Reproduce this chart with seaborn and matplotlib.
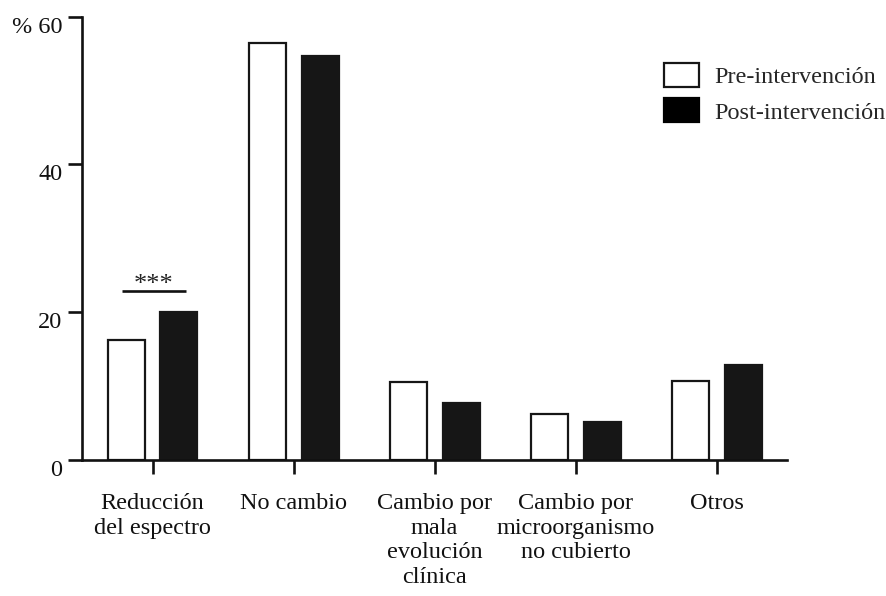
import matplotlib
matplotlib.use("Agg")
import matplotlib.pyplot as plt
import matplotlib.transforms as mtransforms
import seaborn as sns
import pandas as pd

# Motivo del cambio de tratamiento antibiótico, % de casos
categories = [
    "Reducción\ndel espectro",
    "No cambio",
    "Cambio por\nmala\nevolución\nclínica",
    "Cambio por\nmicroorganismo\nno cubierto",
    "Otros",
]
pre_values = [16.3, 56.4, 10.5, 6.2, 10.7]
post_values = [20.0, 54.6, 7.7, 5.1, 12.8]
groups = ["Pre-intervención", "Post-intervención"]
y_ticks = [0, 20, 40, 60]
y_tick_labels = ["0", "20", "40", "% 60"]
significance_label = "***"

df = pd.DataFrame({
    "categoria": categories * 2,
    "porcentaje": pre_values + post_values,
    "grupo": [groups[0]] * len(categories) + [groups[1]] * len(categories),
})

sns.set_theme(style="white")
plt.rcParams["font.family"] = ["Liberation Serif", "DejaVu Serif"]

FS = 17.5
fig = plt.figure(figsize=(8.87, 5.96), dpi=100)
ax = fig.add_axes([0.0924, 0.2282, 0.7954, 0.7441])

dark = "#161616"
sns.barplot(
    data=df, x="categoria", y="porcentaje", hue="grupo",
    order=categories, hue_order=groups,
    palette={groups[0]: "white", groups[1]: dark},
    width=0.75, gap=0.3, edgecolor=dark, linewidth=1.6,
    errorbar=None, legend=False, ax=ax,
)

ax.set_xlim(-0.5, 4.5)
ax.set_ylim(0, 60)
ax.set_yticks(y_ticks)
ax.set_yticklabels(y_tick_labels)
ax.set_xlabel("")
ax.set_ylabel("")

for side in ("top", "right"):
    ax.spines[side].set_visible(False)
for side in ("left", "bottom"):
    ax.spines[side].set_linewidth(1.9)
    ax.spines[side].set_color("#111111")

ax.tick_params(axis="both", which="major", direction="out", length=10,
               width=1.9, color="#111111", labelsize=FS, labelcolor="#111111",
               bottom=True, left=True)
ax.tick_params(axis="y", pad=4)
ax.tick_params(axis="x", pad=14)
for lbl in ax.get_xticklabels():
    lbl.set_linespacing(1.22)
    lbl.set_ha("center")
    lbl.set_va("top")

# y tick labels sit slightly below their ticks
shift = mtransforms.ScaledTranslation(0, -8 / 100, fig.dpi_scale_trans)
for lbl in ax.get_yticklabels():
    lbl.set_transform(lbl.get_transform() + shift)

# Significance marker over the first category
ax.plot([-0.213, 0.234], [22.9, 22.9], color="#111111", lw=1.9,
        solid_capstyle="butt")
ax.text(0.01, 23.7, significance_label, ha="center", va="center",
        fontsize=19, color="#222222")

# Legend
handles = [
    plt.Rectangle((0, 0), 1, 1, facecolor="white", edgecolor=dark, linewidth=1.6),
    plt.Rectangle((0, 0), 1, 1, facecolor="black", edgecolor="black", linewidth=1.6),
]
fig.legend(
    handles, groups, loc="upper left",
    bbox_to_anchor=(664 / 887, 1 - 63 / 596),
    frameon=False, fontsize=FS, borderpad=0, borderaxespad=0,
    handlelength=1.46, handleheight=1.14, handletextpad=0.62,
    labelspacing=0.42,
)

fig.savefig("out.png", dpi=100)
